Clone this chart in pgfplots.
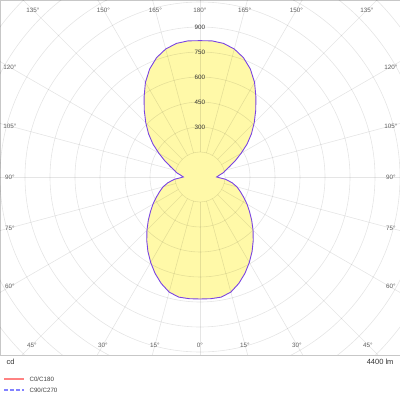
\documentclass[border=0pt]{standalone}
\usepackage{fontspec}
\setmainfont{Liberation Sans}
\usepackage{pgfplots}
\pgfplotsset{compat=1.18}
\usepackage{pgfplotstable}

\definecolor{fillc}{RGB}{255,249,168}
\definecolor{curvec}{RGB}{122,68,226}
\definecolor{labc}{RGB}{95,95,95}
\definecolor{legred}{RGB}{255,130,130}
\definecolor{legblue}{RGB}{130,130,255}

% luminous intensity (cd) against gamma angle, 0 = downward, going round
\pgfplotstableread{
g   i
0   732
5   733
10  732
15  715
20  680
25  638
30  592
35  545
40  497
45  450
50  405
55  363
60  326
65  290
70  258
75  230
80  195
85  152
90  100
95  115
100 140
105 162
110 192
115 235
120 285
125 345
130 403
135 460
140 520
145 585
150 655
155 715
160 762
165 795
170 814
175 820
180 818
185 820
190 814
195 795
200 762
205 715
210 655
215 585
220 520
225 460
230 403
235 345
240 285
245 235
250 192
255 162
260 140
265 115
270 100
275 152
280 195
285 230
290 258
295 290
300 326
305 363
310 405
315 450
320 497
325 545
330 592
335 638
340 680
345 715
350 732
355 733
360 732
}\ldc

\begin{document}
\begin{tikzpicture}
\useasboundingbox (0,-45pt) rectangle (400pt,355pt);
\begin{axis}[
    at={(0,0)}, anchor=south west,
    scale only axis,
    width=400pt, height=355pt,
    xmin=-1200, xmax=1200,
    ymin=-1068, ymax=1062,
    ticks=none,
    axis line style={black!22, line width=0.9pt},
    clip=true
]
% photometric curve, filled
\addplot[fill=fillc, draw=none] table[
    x expr={\thisrow{i}*sin(\thisrow{g})},
    y expr={-\thisrow{i}*cos(\thisrow{g})}] {\ldc};

% polar grid
\pgfplotsinvokeforeach{150,300,...,1650}{
  \draw[black, draw opacity=0.10, line width=0.6pt] (axis cs:0,0) circle[radius=#1];
}
\pgfplotsinvokeforeach{0,15,...,345}{
  \draw[black, draw opacity=0.10, line width=0.6pt]
    (axis cs:{150*sin(#1)},{150*cos(#1)}) -- (axis cs:{1800*sin(#1)},{1800*cos(#1)});
}

\addplot[curvec, line width=0.9pt] table[
    x expr={\thisrow{i}*sin(\thisrow{g})},
    y expr={-\thisrow{i}*cos(\thisrow{g})}] {\ldc};

% intensity labels
\pgfplotsinvokeforeach{300,450,600,750,900}{
  \node[font=\fontsize{6.3}{7}\selectfont, text=black!80] at (axis cs:0,#1) {#1};
}

% angle labels
\begin{scope}[every node/.style={font=\fontsize{6.3}{7}\selectfont, text=labc}]
\node at (axis cs:0,1002) {180°};
\node at (axis cs:-268,1002) {165°};
\node at (axis cs:268,1002) {165°};
\node at (axis cs:-579,1002) {150°};
\node at (axis cs:579,1002) {150°};
\node at (axis cs:-1002,1002) {135°};
\node at (axis cs:1002,1002) {135°};
\node at (axis cs:-1140,658) {120°};
\node at (axis cs:1145,658) {120°};
\node at (axis cs:-1140,305) {105°};
\node at (axis cs:1145,305) {105°};
\node at (axis cs:-1140,0) {90°};
\node at (axis cs:1145,0) {90°};
\node at (axis cs:-1140,-305) {75°};
\node at (axis cs:1145,-305) {75°};
\node at (axis cs:-1140,-658) {60°};
\node at (axis cs:1145,-658) {60°};
\node at (axis cs:-1008,-1008) {45°};
\node at (axis cs:1008,-1008) {45°};
\node at (axis cs:-582,-1008) {30°};
\node at (axis cs:582,-1008) {30°};
\node at (axis cs:-270,-1008) {15°};
\node at (axis cs:270,-1008) {15°};
\node at (axis cs:0,-1008) {0°};
\end{scope}
\end{axis}

% footer
\node[anchor=west, font=\fontsize{7.5}{9}\selectfont, text=black!80] at (3pt,-7pt) {cd};
\node[anchor=east, font=\fontsize{7.5}{9}\selectfont, text=black!80] at (397pt,-7pt) {4400 lm};
\draw[draw=legred, line width=1.2pt] (4pt,-24pt) -- (24pt,-24pt);
\node[anchor=west, font=\fontsize{6.2}{7}\selectfont, text=black!75] at (26pt,-24pt) {C0/C180};
\draw[draw=legblue, line width=1.2pt, dash pattern=on 3.5pt off 2.5pt] (4pt,-35pt) -- (24pt,-35pt);
\node[anchor=west, font=\fontsize{6.2}{7}\selectfont, text=black!75] at (26pt,-35pt) {C90/C270};
\end{tikzpicture}
\end{document}
